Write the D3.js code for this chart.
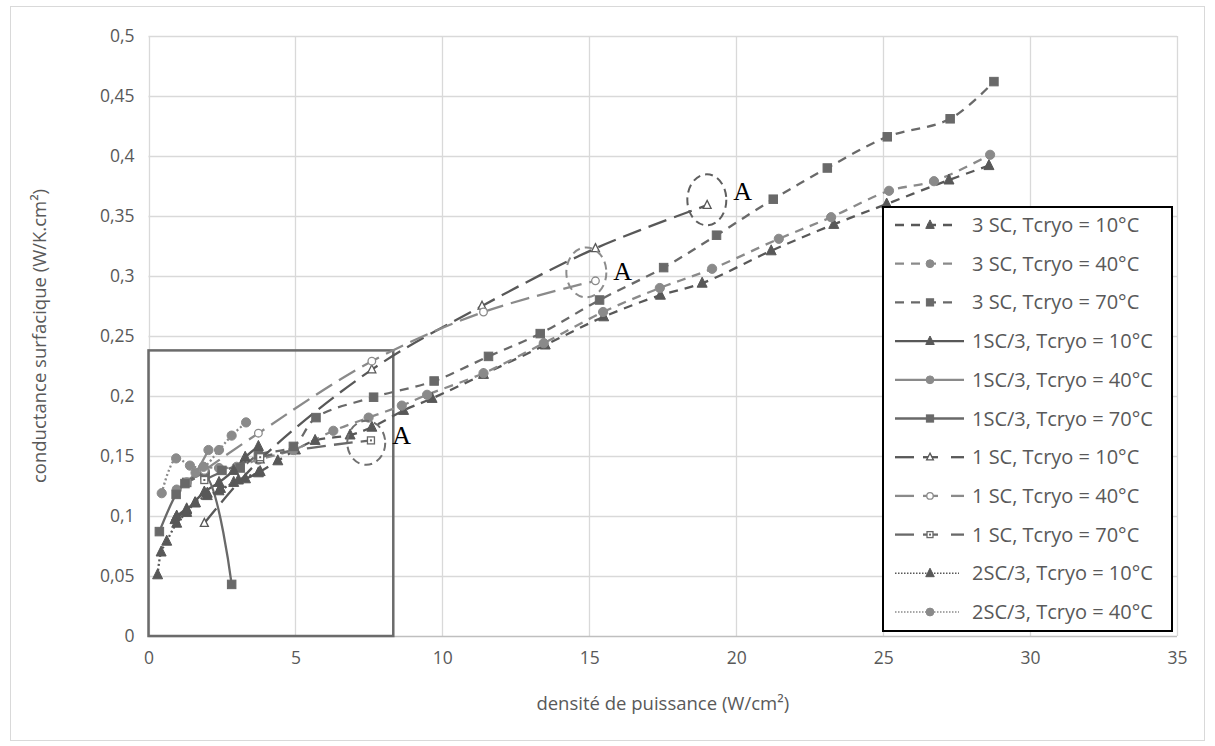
<!DOCTYPE html>
<html><head><meta charset="utf-8">
<script src="https://cdn.jsdelivr.net/npm/d3@7"></script>
<style>body{margin:0;background:#fff}svg{display:block}text{font-family:"Open Sans",sans-serif}</style>
</head><body><svg id="c" width="1215" height="746"></svg>
<script>
// ---- data ----
const xTicks = [0,5,10,15,20,25,30,35];
const yTicks = [0,0.05,0.1,0.15,0.2,0.25,0.3,0.35,0.4,0.45,0.5];
const xTitle = "densité de puissance (W/cm²)";
const yTitle = "conductance surfacique (W/K.cm²)";

const sc3_10 = [[0.96,0.100],[1.3,0.106],[1.6,0.111],[2.0,0.119],[2.45,0.123],[2.9,0.128],[3.3,0.131],[3.8,0.137],[4.4,0.146],[5.0,0.155],[5.67,0.163],[6.86,0.1675],[7.6,0.174],[8.68,0.188],[9.65,0.198],[11.4,0.218],[13.5,0.2425],[15.49,0.266],[17.42,0.284],[18.84,0.294],[21.19,0.321],[23.32,0.343],[25.12,0.360],[27.24,0.380],[28.6,0.392]];
const sc3_40 = [[1.87,0.141],[2.4,0.140],[3.0,0.141],[3.74,0.147],[4.93,0.155],[6.29,0.171],[7.49,0.182],[8.62,0.192],[9.48,0.201],[11.4,0.219],[13.45,0.244],[15.47,0.270],[17.4,0.290],[19.18,0.306],[21.45,0.331],[23.23,0.349],[25.2,0.371],[26.73,0.379],[28.64,0.401]];
const sc3_70 = [[1.3,0.128],[1.92,0.135],[2.5,0.138],[3.12,0.140],[3.74,0.151],[4.93,0.158],[5.7,0.182],[7.66,0.199],[9.72,0.2125],[11.57,0.233],[13.33,0.252],[15.35,0.280],[17.53,0.307],[19.33,0.334],[21.26,0.364],[23.1,0.390],[25.14,0.416],[27.28,0.431],[28.77,0.462]];
const sc13_10 = [[0.9,0.097],[1.3,0.105],[1.9,0.120],[2.4,0.128],[2.9,0.138],[3.29,0.149],[3.74,0.158]];
const sc13_40 = [[0.96,0.122],[1.3,0.128],[1.6,0.136],[2.04,0.155]];
const sc13_70 = [[0.37,0.087],[0.94,0.118],[1.24,0.127],[1.92,0.134],[2.83,0.043]];
const sc1_10 = [[1.9,0.094],[3.8,0.147],[7.6,0.222],[11.35,0.275],[15.21,0.323],[19.01,0.359]];
const sc1_40 = [[1.9,0.138],[3.74,0.169],[7.6,0.229],[11.4,0.270],[15.21,0.296]];
const sc1_70 = [[1.9,0.130],[3.8,0.149],[7.57,0.163]];
const sc23_10 = [[0.31,0.051],[0.43,0.070],[0.62,0.079],[0.96,0.094],[1.3,0.103],[1.58,0.111],[2.0,0.117],[2.4,0.121],[3.06,0.130],[3.74,0.136]];
const sc23_40 = [[0.45,0.119],[0.94,0.148],[1.41,0.142],[1.87,0.141],[2.4,0.155],[2.83,0.167],[3.32,0.178]];

const seriesNames = ["3 SC, Tcryo = 10°C","3 SC, Tcryo = 40°C","3 SC, Tcryo = 70°C","1SC/3, Tcryo = 10°C","1SC/3, Tcryo = 40°C","1SC/3, Tcryo = 70°C","1 SC, Tcryo = 10°C","1 SC, Tcryo = 40°C","1 SC, Tcryo = 70°C","2SC/3, Tcryo = 10°C","2SC/3, Tcryo = 40°C"];
const seriesData = [sc3_10,sc3_40,sc3_70,sc13_10,sc13_40,sc13_70,sc1_10,sc1_40,sc1_70,sc23_10,sc23_40];

// zoom box and "A" annotations (data coords)
const zoomBox = {x0:0, x1:8.33, y0:0, y1:0.238};
const notes = [{x:19.0,y:0.3635,label:"A",ty:0.371,c:"#5f5f5f"},
               {x:14.9,y:0.303,label:"A",ty:0.3045,c:"#8c8c8c"},
               {x:7.41,y:0.161,label:"A",ty:0.1675,c:"#707070"}];
const noteR = [[19.5,25.5],[20,25],[19,22]];

// ---- styles ----
const C10="#585858", C40="#8a8a8a", C70="#696969";
const styles = [
 {c:C10,d:"9,7",m:"tri",open:false},
 {c:C40,d:"9,7",m:"cir",open:false},
 {c:C70,d:"9,7",m:"sq",open:false},
 {c:C10,d:null,m:"tri",open:false},
 {c:C40,d:null,m:"cir",open:false},
 {c:C70,d:null,m:"sq",open:false},
 {c:C10,d:"19,8",m:"tri",open:true},
 {c:C40,d:"19,8",m:"cir",open:true},
 {c:C70,d:"19,8",m:"sq",open:true},
 {c:C10,d:"2,2.5",m:"tri",open:false},
 {c:C40,d:"2,2.5",m:"cir",open:false}
];

const svg = d3.select("#c");
const L=148.5,R=1177,T=36,B=636;
const x = d3.scaleLinear().domain([0,35]).range([L,R]);
const y = d3.scaleLinear().domain([0,0.5]).range([B,T]);

svg.append("rect").attr("x",10.5).attr("y",6.5).attr("width",1194).attr("height",734)
  .attr("fill","#fff").attr("stroke","#d9d9d9").attr("stroke-width",1);

// grid
const g = svg.append("g");
g.selectAll(".gy").data(yTicks.filter(v=>v>0)).join("line")
  .attr("x1",L).attr("x2",R).attr("y1",d=>Math.round(y(d))+0.5).attr("y2",d=>Math.round(y(d))+0.5)
  .attr("stroke","#d9d9d9").attr("stroke-width",1.3);
g.selectAll(".gx").data(xTicks).join("line")
  .attr("y1",T).attr("y2",B).attr("x1",d=>Math.round(x(d))+0.5).attr("x2",d=>Math.round(x(d))+0.5)
  .attr("stroke","#d9d9d9").attr("stroke-width",1.3);
g.append("line").attr("x1",L).attr("x2",R).attr("y1",B+0.5).attr("y2",B+0.5).attr("stroke","#bfbfbf").attr("stroke-width",1.3);

// axes labels via d3 axes
const fmt = d => String(d).replace(".",",");
const ax = svg.append("g").attr("transform",`translate(0,${B})`)
  .call(d3.axisBottom(x).tickValues(xTicks).tickFormat(fmt).tickSize(0).tickPadding(16));
const ay = svg.append("g").attr("transform",`translate(${L},0)`)
  .call(d3.axisLeft(y).tickValues(yTicks).tickFormat(fmt).tickSize(0).tickPadding(14));
[ax,ay].forEach(a=>{a.select(".domain").remove();
  a.selectAll("text").attr("fill","#595959").style("font-size","17.5px").style("font-family","'Open Sans',sans-serif");});

svg.append("text").attr("x",(L+R)/2).attr("y",710).attr("text-anchor","middle")
  .attr("fill","#595959").style("font-size","18.5px").text(xTitle);
svg.append("text").attr("transform",`translate(46,${(T+B)/2}) rotate(-90)`).attr("text-anchor","middle")
  .attr("fill","#595959").style("font-size","18.5px").text(yTitle);

// zoom box
svg.append("rect").attr("x",x(zoomBox.x0)).attr("y",y(zoomBox.y1))
  .attr("width",x(zoomBox.x1)-x(zoomBox.x0)).attr("height",y(zoomBox.y0)-y(zoomBox.y1))
  .attr("fill","none").attr("stroke","#6b6b6b").attr("stroke-width",2.5);

// marker drawing
function marker(sel, type, cx, cy, color, open, s){
  s = s || 1;
  if(type==="tri"){
    const h = (open?8:10)*s, w=(open?8:10)*s;
    sel.append("path").attr("d",`M${cx},${cy-h*0.6}L${cx+w/2},${cy+h*0.4}L${cx-w/2},${cy+h*0.4}Z`)
      .attr("fill",open?"#fff":color).attr("stroke",color).attr("stroke-width",open?1.3:1);
  } else if(type==="cir"){
    sel.append("circle").attr("cx",cx).attr("cy",cy).attr("r",(open?3.8:4.6)*s)
      .attr("fill",open?"#fff":color).attr("stroke",color).attr("stroke-width",open?1.3:1);
  } else {
    const a=(open?7:8.5)*s;
    sel.append("rect").attr("x",cx-a/2).attr("y",cy-a/2).attr("width",a).attr("height",a)
      .attr("fill",open?"#fff":color).attr("stroke",color).attr("stroke-width",open?1.3:1);
    if(open) sel.append("rect").attr("x",cx-1).attr("y",cy-1).attr("width",2).attr("height",2).attr("fill",color);
  }
}

const line = d3.line().x(d=>x(d[0])).y(d=>y(d[1])).curve(d3.curveCatmullRom.alpha(0.5));
const plot = svg.append("g");
seriesData.forEach((data,i)=>{
  const st = styles[i];
  plot.append("path").datum(data).attr("d",line).attr("fill","none")
    .attr("stroke",st.c).attr("stroke-width",2.3).attr("stroke-dasharray",st.d||null);
});
seriesData.forEach((data,i)=>{
  const st = styles[i];
  const mg = plot.append("g");
  data.forEach(d=>marker(mg, st.m, x(d[0]), y(d[1]), st.c, st.open));
});

// annotations
notes.forEach((n,i)=>{
  const [rx,ry]=noteR[i];
  svg.append("ellipse").attr("cx",x(n.x)).attr("cy",y(n.y)).attr("rx",rx).attr("ry",ry)
    .attr("fill","none").attr("stroke",n.c).attr("stroke-width",2).attr("stroke-dasharray","8,5");
  svg.append("text").attr("x",x(n.x)+rx+7).attr("y",y(n.ty)+9).attr("fill","#000")
    .style("font-family","'Liberation Serif','DejaVu Serif',serif").style("font-size","26px").text(n.label);
});

// legend
const lg = svg.append("g");
lg.append("rect").attr("x",883).attr("y",207).attr("width",289).attr("height",424)
  .attr("fill","#fff").attr("stroke","#000").attr("stroke-width",2);
seriesNames.forEach((name,i)=>{
  const st = styles[i];
  const cy = 225 + i*38.7;
  if(st.d==="19,8"){
    lg.append("line").attr("x1",895).attr("x2",914).attr("y1",cy).attr("y2",cy).attr("stroke",st.c).attr("stroke-width",2.3);
    lg.append("line").attr("x1",923).attr("x2",938).attr("y1",cy).attr("y2",cy).attr("stroke",st.c).attr("stroke-width",2.3);
    lg.append("line").attr("x1",951).attr("x2",964).attr("y1",cy).attr("y2",cy).attr("stroke",st.c).attr("stroke-width",2.3);
  } else {
    lg.append("line").attr("x1",895).attr("x2",st.d?959:964).attr("y1",cy).attr("y2",cy)
      .attr("stroke",st.c).attr("stroke-width",st.d==="2,2.5"?1.6:2.3).attr("stroke-dasharray",st.d==="2,2.5"?"1.5,1.5":st.d);
  }
  marker(lg, st.m, 930, cy, st.c, st.open, 0.85);
  lg.append("text").attr("x",972).attr("y",cy+7).attr("fill","#595959").style("font-size","20px").text(name);
});
</script></body></html>
